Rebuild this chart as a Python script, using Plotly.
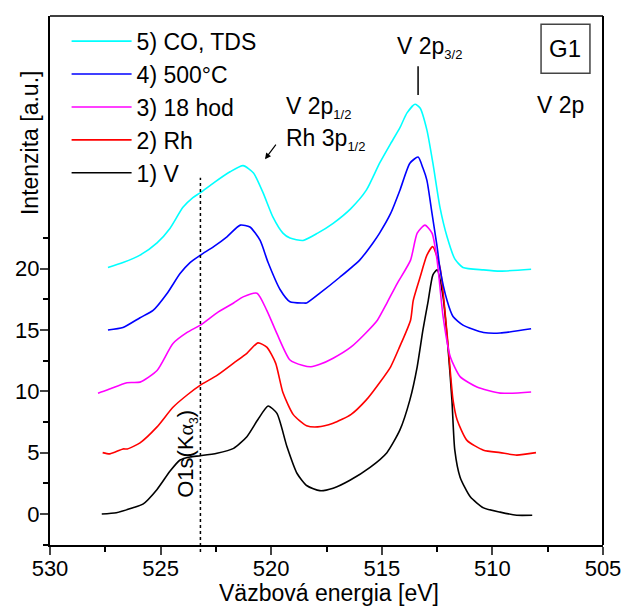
import plotly.graph_objects as go

# ---- data ----
names = ["1) V", "2) Rh", "3) 18 hod", "4) 500°C", "5) CO, TDS"]
colors = ["#000000", "#FF0000", "#FF00FF", "#0000FF", "#00FFFF"]

v_x = [527.66, 527.0, 526.25, 525.8, 525.16, 524.57, 524.12, 523.67, 523.2, 522.45, 521.7, 521.1,
       520.6, 520.14, 519.74, 519.29, 518.83, 518.38, 517.8, 517.2, 516.44, 515.53, 514.77, 514.18,
       513.73, 513.4, 513.14, 512.9, 512.69, 512.5, 512.23, 512.0, 511.83, 511.7, 511.46, 511.0,
       510.4, 509.65, 508.9, 508.2]
v_y = [0.0, 0.1, 0.5, 0.8, 2.0, 3.5, 4.4, 4.65, 4.75, 4.95, 5.35, 6.3,
       7.7, 8.8, 8.2, 5.5, 3.3, 2.3, 1.9, 2.1, 2.75, 3.8, 5.0, 6.85,
       9.3, 12.0, 15.0, 17.4, 19.5, 19.9, 17.7, 13.4, 9.3, 5.2, 3.0, 1.4,
       0.5, 0.15, -0.1, -0.1]

rh_x = [527.62, 527.29, 526.7, 526.5, 525.93, 525.16, 524.44, 523.8, 523.2, 522.45, 521.7, 521.1,
        520.6, 520.2, 519.8, 519.47, 519.0, 518.4, 517.9, 517.2, 516.4, 515.7, 515.1, 514.6,
        514.2, 513.7, 513.58, 513.27, 512.96, 512.7, 512.37, 512.05, 511.78, 511.6, 511.15, 510.4,
        509.65, 508.9, 508.03]
rh_y = [5.0, 4.9, 5.3, 5.3, 5.8, 7.1, 8.7, 9.7, 10.5, 11.3, 12.3, 13.1,
        13.95, 13.6, 12.3, 9.9, 8.1, 7.2, 7.1, 7.4, 8.1, 9.3, 10.7, 12.0,
        13.6, 15.8, 17.4, 19.3, 21.1, 21.8, 20.1, 14.7, 9.3, 7.7, 6.0, 5.2,
        5.0, 4.8, 5.0]

h18_x = [527.83, 527.42, 526.52, 525.93, 525.16, 524.44, 523.8, 523.2, 522.45, 521.7, 521.27, 520.64,
         520.2, 519.74, 519.15, 518.56, 518.2, 517.8, 517.2, 516.4, 515.7, 515.2, 514.77, 514.3,
         513.7, 513.4, 513.05, 512.73, 512.5, 512.23, 511.9, 511.46, 510.7, 509.65, 508.25]
h18_y = [9.85, 10.1, 10.7, 10.75, 11.7, 13.9, 14.8, 15.4, 16.4, 17.2, 17.7, 18.0,
         16.6, 14.7, 12.55, 12.1, 12.0, 12.2, 12.7, 13.6, 14.8, 15.8, 17.2, 18.8,
         20.7, 22.9, 23.55, 22.9, 20.7, 16.1, 12.8, 11.2, 10.35, 9.85, 9.95]

c500_x = [527.38, 526.7, 525.93, 525.34, 524.7, 524.12, 523.67, 523.2, 522.6, 522.0, 521.4, 520.96,
          520.5, 520.14, 519.6, 519.15, 518.56, 518.4, 517.8, 516.9, 516.0, 515.4, 515.1, 514.6,
          514.18, 513.73, 513.36, 513.14, 512.96, 512.73, 512.5, 512.37, 512.05, 511.78, 511.33,
          510.4, 509.65, 508.25]
c500_y = [15.0, 15.2, 16.0, 16.6, 18.0, 19.6, 20.5, 21.1, 21.8, 22.6, 23.55, 23.4,
          22.3, 20.5, 18.3, 17.3, 17.2, 17.2, 18.0, 19.3, 20.7, 22.1, 22.9, 24.5,
          26.4, 28.6, 29.1, 28.2, 27.2, 24.5, 21.8, 20.0, 17.4, 16.1, 15.4,
          14.8, 14.75, 15.1]

co_x = [527.38, 526.7, 525.93, 525.16, 524.57, 523.99, 523.54, 523.2, 522.6, 521.86, 521.27, 520.8,
        520.37, 519.92, 519.47, 519.15, 518.56, 517.9, 517.2, 516.4, 515.7, 515.1, 514.6, 514.18,
        513.86, 513.5, 513.27, 512.96, 512.69, 512.37, 512.05, 511.7, 511.33, 510.4, 509.65, 508.25]
co_y = [20.1, 20.5, 21.1, 22.1, 23.3, 25.0, 25.8, 26.2, 27.0, 27.9, 28.4, 27.8,
        26.2, 24.2, 22.9, 22.5, 22.3, 22.9, 23.7, 24.9, 26.4, 28.6, 30.2, 31.5,
        32.7, 33.4, 33.1, 31.3, 28.6, 25.0, 22.6, 20.8, 20.1, 19.9, 19.8, 19.95]

series_x = [v_x, rh_x, h18_x, c500_x, co_x]
series_y = [v_y, rh_y, h18_y, c500_y, co_y]

x_ticks = [530, 525, 520, 515, 510, 505]
x_minor = [527.5, 522.5, 517.5, 512.5, 507.5]
y_ticks = [0, 5, 10, 15, 20]
y_minor = [-2.5, 2.5, 7.5, 12.5, 17.5, 22.5]

FONT = "Liberation Sans, Arial, sans-serif"

fig = go.Figure()
for nm, col, xs, ys in zip(names, colors, series_x, series_y):
    fig.add_trace(go.Scatter(x=xs, y=ys, mode="lines", name=nm,
                             line=dict(color=col, width=1.6, shape="spline", smoothing=0.6)))

fig.update_layout(
    width=623, height=607,
    margin=dict(l=50, r=20, t=16, b=62, autoexpand=False),
    plot_bgcolor="white", paper_bgcolor="white",
    font=dict(family=FONT, size=22, color="black"),
    legend=dict(x=0.03, y=0.993, xanchor="left", yanchor="top",
                traceorder="reversed", bgcolor="rgba(0,0,0,0)",
                font=dict(size=23, family=FONT), itemwidth=60),
)
fig.update_xaxes(range=[530, 505], tickvals=x_ticks, ticks="outside", ticklen=8,
                 tickwidth=2, showline=True, linewidth=2, linecolor="black",
                 showgrid=False, zeroline=False, ticklabelstandoff=-5, automargin=False,
                 minor=dict(tickvals=x_minor, ticks="outside", ticklen=5, tickwidth=2,
                            tickcolor="black"))
fig.update_yaxes(range=[-2.53, 40.6], tickvals=y_ticks, ticks="outside", ticklen=8,
                 tickwidth=2, showline=True, linewidth=2, linecolor="black",
                 showgrid=False, zeroline=False, ticklabelstandoff=-4, automargin=False,
                 minor=dict(tickvals=y_minor, ticks="outside", ticklen=5, tickwidth=2,
                            tickcolor="black"))

# frame (top / right)
fig.add_shape(type="line", xref="paper", yref="paper", x0=0, x1=1, y0=1, y1=1,
              line=dict(color="black", width=1.5))
fig.add_shape(type="line", xref="paper", yref="paper", x0=1, x1=1, y0=0, y1=1,
              line=dict(color="black", width=2))

# G1 box
fig.add_shape(type="rect", xref="x", yref="y", x0=507.8, x1=505.59, y0=35.94, y1=39.93,
              line=dict(color="#444444", width=1.5))
fig.add_annotation(x=506.7, y=37.94, xref="x", yref="y", text="G1", showarrow=False,
                   xanchor="center", yanchor="middle", font=dict(size=24))

# V 2p3/2 marker
fig.add_shape(type="line", xref="x", yref="y", x0=513.36, x1=513.36, y0=34.15, y1=36.5,
              line=dict(color="black", width=1.5))
fig.add_annotation(x=514.4, y=38.0, xref="x", yref="y", xanchor="left", yanchor="middle",
                   text='V 2p<sub><span style="font-size:13px">3/2</span></sub>',
                   showarrow=False, font=dict(size=23))
fig.add_annotation(x=506.94, y=33.37, xref="x", yref="y", text="V 2p", showarrow=False,
                   xanchor="center", yanchor="middle", font=dict(size=23))
fig.add_annotation(x=519.42, y=33.1, xref="x", yref="y", xanchor="left", yanchor="middle",
                   text='V 2p<sub><span style="font-size:13px">1/2</span></sub>',
                   showarrow=False, font=dict(size=23))
fig.add_annotation(x=519.42, y=30.5, xref="x", yref="y", xanchor="left", yanchor="middle",
                   text='Rh 3p<sub><span style="font-size:13px">1/2</span></sub>',
                   showarrow=False, font=dict(size=23))
# arrow
fig.add_annotation(x=520.28, y=28.93, xref="x", yref="y", text="", showarrow=True,
                   ax=12, ay=-16, arrowhead=2, arrowsize=1, arrowwidth=1.2,
                   arrowcolor="black")

# dotted O1s line
fig.add_shape(type="line", xref="x", yref="paper", x0=523.2, x1=523.2, y0=-0.013, y1=0.694,
              line=dict(color="black", width=1.5, dash="dot"))
fig.add_annotation(x=523.81, y=4.9, xref="x", yref="y", textangle=-90,
                   xanchor="center", yanchor="middle",
                   text='O1s(K<span style="font-family:serif">α</span><sub><span style="font-size:12px">3</span></sub>)',
                   showarrow=False, font=dict(size=22))

# axis titles
fig.add_annotation(x=0.5045, y=-0.1172, xref="paper", yref="paper", text="Väzbová energia [eV]",
                   showarrow=False, xanchor="center", yanchor="bottom", height=26,
                   valign="middle", borderpad=0, font=dict(size=23))
fig.add_annotation(x=-0.036, y=0.76, xref="paper", yref="paper", text="Intenzita [a.u.]",
                   textangle=-90, showarrow=False, xanchor="center", yanchor="middle",
                   font=dict(size=23))

fig.write_html("out.html")
